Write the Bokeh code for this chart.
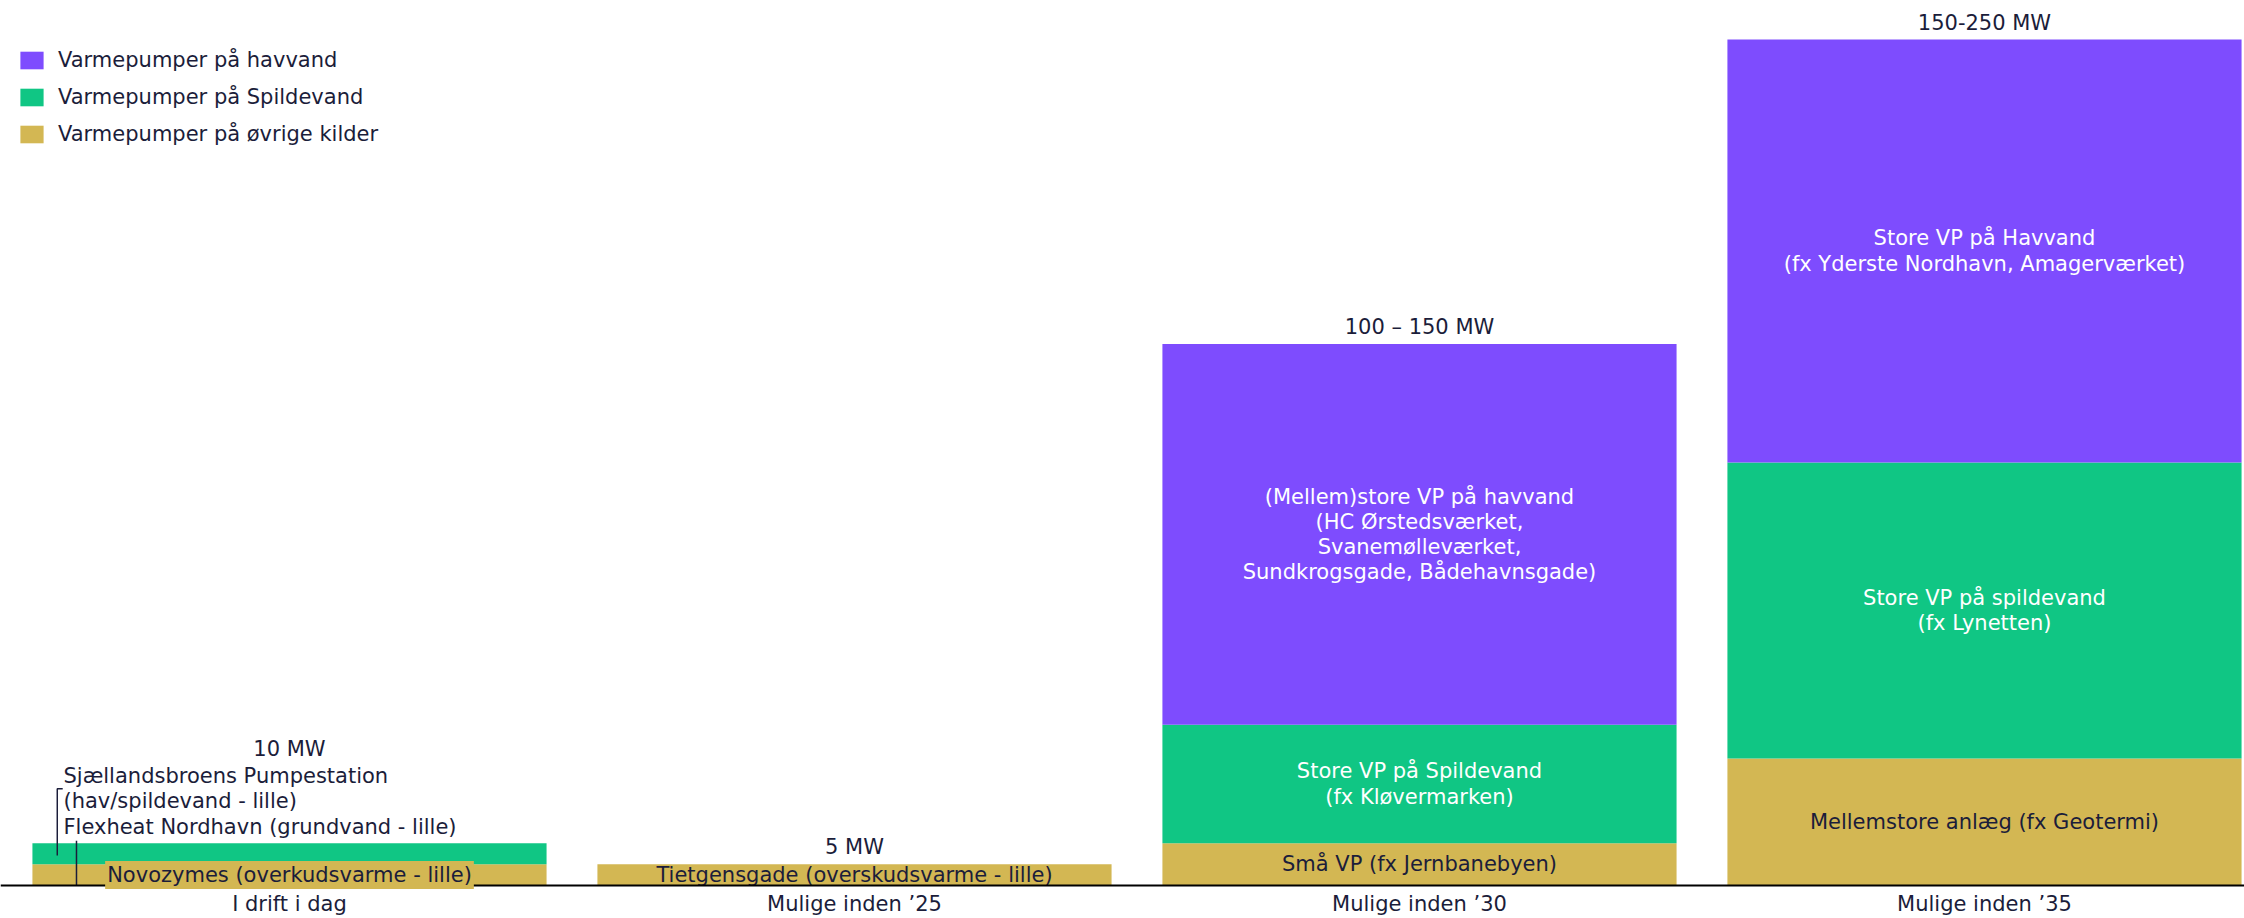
from bokeh.plotting import figure
from bokeh.models import ColumnDataSource, Range1d, FixedTicker, Legend, LegendItem
from bokeh.core.properties import value
from bokeh.embed import file_html
from bokeh.resources import INLINE

# ---- data ----
categories = ["I drift i dag", "Mulige inden \u201925", "Mulige inden \u201930", "Mulige inden \u201935"]
ovrige = [5, 5, 10, 30]          # Varmepumper på øvrige kilder
spildevand = [5, 0, 28, 70]      # Varmepumper på Spildevand
havvand = [0, 0, 90, 100]        # Varmepumper på havvand
total_labels = ["10 MW", "5 MW", "100 \u2013 150 MW", "150-250 MW"]

series_names = ["Varmepumper på havvand", "Varmepumper på Spildevand", "Varmepumper på øvrige kilder"]

ovrige_labels = ["Novozymes (overkudsvarme - lille)",
                 "Tietgensgade (overskudsvarme - lille)",
                 "Små VP (fx Jernbanebyen)",
                 "Mellemstore anlæg (fx Geotermi)"]
spilde_labels = ["", "", "Store VP på Spildevand\n(fx Kløvermarken)",
                 "Store VP på spildevand\n(fx Lynetten)"]
hav_labels = ["", "",
              "(Mellem)store VP på havvand\n(HC Ørstedsværket,\nSvanemølleværket,\nSundkrogsgade, Bådehavnsgade)",
              "Store VP på Havvand\n(fx Yderste Nordhavn, Amagerværket)"]
first_bar_note = "Sjællandsbroens Pumpestation\n(hav/spildevand - lille)\nFlexheat Nordhavn (grundvand - lille)"

# ---- style ----
PURPLE = "#7E4CFE"
GREEN = "#10C684"
GOLD = "#D3B753"
DARK = "#1B1D3A"
FONT_NAME = "DejaVu Sans"
FONT = value(FONT_NAME)
FS = "21px"
BAR_W = 0.91

xs = list(range(len(categories)))
src = ColumnDataSource(dict(x=xs, ovrige=ovrige, spildevand=spildevand, havvand=havvand))

p = figure(width=2244, height=918, x_range=Range1d(-0.5115, 3.4602), y_range=Range1d(-7.80, 209.22),
           output_backend="svg", toolbar_location=None, y_axis_location=None,
           min_border_left=0, min_border_right=0, min_border_top=0, min_border_bottom=0)
p.outline_line_color = None
p.xgrid.visible = False
p.ygrid.visible = False
p.background_fill_color = "white"
p.border_fill_color = "white"

rs = p.vbar_stack(["ovrige", "spildevand", "havvand"], x="x", width=BAR_W, source=src,
                  color=[GOLD, GREEN, PURPLE], line_color=None)

# legend
legend = Legend(items=[LegendItem(label=series_names[0], renderers=[rs[2]]),
                       LegendItem(label=series_names[1], renderers=[rs[1]]),
                       LegendItem(label=series_names[2], renderers=[rs[0]])],
                location=(17, 769), orientation="vertical",
                glyph_width=29, glyph_height=22, label_height=30, label_standoff=12,
                spacing=7, padding=0, margin=0,
                label_text_font=FONT_NAME, label_text_font_size=FS, label_text_color=DARK,
                background_fill_alpha=0, border_line_alpha=0)
p.add_layout(legend)

# x axis drawn at y = 0
ax = p.xaxis[0]
ax.fixed_location = 0
ax.ticker = FixedTicker(ticks=xs)
ax.major_label_overrides = {i: c for i, c in enumerate(categories)}
ax.major_tick_line_color = None
ax.minor_tick_line_color = None
ax.major_tick_out = 0
ax.major_tick_in = 0
ax.axis_line_color = "black"
ax.axis_line_width = 2
ax.major_label_standoff = 6
ax.major_label_text_font = FONT_NAME
ax.major_label_text_font_size = FS
ax.major_label_text_color = DARK

# segment label positions
tops = [o + s + h for o, s, h in zip(ovrige, spildevand, havvand)]
ov_mid = [o / 2 for o in ovrige]
sp_mid = [o + s / 2 for o, s in zip(ovrige, spildevand)]
hv_mid = [o + s + h / 2 for o, s, h in zip(ovrige, spildevand, havvand)]

common = dict(text_font=FONT, text_font_size=FS, text_align="center", text_baseline="middle",
              text_line_height=1.05)

# øvrige (dark text); first one has a gold background box drawn over the baseline
p.text(x=xs[:1], y=ov_mid[:1], text=ovrige_labels[:1], text_color=DARK,
       background_fill_color=GOLD, padding=2, level="overlay", **common)
p.text(x=xs[1:], y=ov_mid[1:], text=ovrige_labels[1:], text_color=DARK, **common)
p.text(x=xs[2:], y=sp_mid[2:], text=spilde_labels[2:], text_color="white", **common)
p.text(x=xs[2:], y=hv_mid[2:], text=hav_labels[2:], text_color="white", **common)

# totals
total_offsets = [-94, -17, -17, -17]
p.text(x=xs, y=tops, text=total_labels, y_offset=total_offsets, text_color=DARK, **common)

# annotation at first bar with leader lines
bar_left = xs[0] - BAR_W / 2
note_x = bar_left + 0.055
p.text(x=[note_x], y=[tops[0] + 9.9], text=[first_bar_note], text_color=DARK,
       text_font=FONT, text_font_size=FS, text_align="left", text_baseline="middle",
       text_line_height=1.05)
lx1 = bar_left + 0.044
p.line(x=[lx1 + 0.0096, lx1, lx1], y=[tops[0] + 12.9, tops[0] + 12.9, sp_mid[0] - 0.4],
       line_color=DARK, line_width=1.5)
lx2 = bar_left + 0.078
p.line(x=[lx2, lx2], y=[tops[0] + 0.6, 0], line_color=DARK, line_width=1.5)

open("out.html", "w").write(file_html(p, INLINE))
